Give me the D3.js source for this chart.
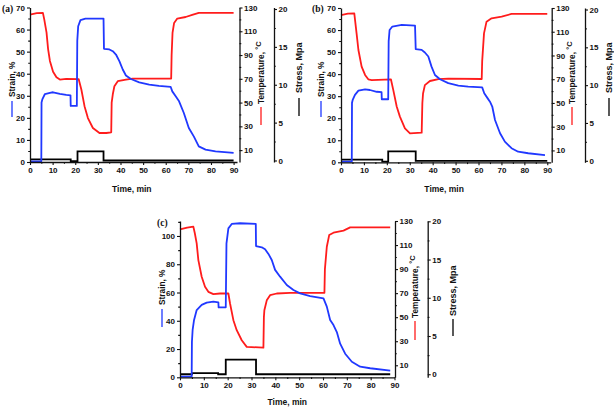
<!DOCTYPE html>
<html><head><meta charset="utf-8">
<script src="https://cdn.jsdelivr.net/npm/d3@7"></script>
<style>
body{margin:0;background:#fff}
svg text{font-family:"Liberation Sans",Arial,sans-serif;font-weight:bold;fill:#111}
</style>
</head><body>
<svg id="chart" width="614" height="409"></svg>
<script>
// ---------- data ----------
const timeTicks = [0,10,20,30,40,50,60,70,80,90];
const tempTicks = [10,30,50,70,90,110,130];
const stressTicks = [0,5,10,15,20];
const strainTicksAB = [0,10,20,30,40,50,60,70];
const strainTicksC = [0,20,40,60,80,100];
const panelLabels = ["(a)","(b)","(c)"];
const titleTime = "Time, min";
const titleStrain = "Strain, %";
const titleTemp = "Temperature, ";
const titleTempUnit = "°C";
const titleStress = "Stress, Mpa";

const strainA = [[0,0.3],[5.0,0.3],[5.1,27],[5.5,28.5],[6.6,30.8],[8.8,31.3],[10.2,31.6],[13.2,30.9],[16,30.4],[17.9,30.2],[18,25.4],[20.7,25.4],[20.9,55],[21.3,61.5],[22.3,64.3],[24.5,65],[32.5,65],[32.7,51.3],[35.1,51],[36.6,50.2],[38,48.7],[39.5,45.7],[41,41.9],[42.4,39.2],[44.6,37.6],[48.3,36.1],[52.7,35.1],[57,34.5],[62.2,34],[62.9,32],[64.4,29.8],[65.9,27.5],[68,22.2],[70.2,15.4],[72.4,11.6],[74.6,7.1],[77.6,5.6],[82,4.8],[90,4.1]];
const tempA = [[0,124],[3,125.3],[5.7,125.5],[6.3,120],[7.3,109],[8,95],[8.8,85],[10.2,76],[11.7,71.3],[13.2,69.4],[16,70],[21.5,69.8],[22.7,61],[24.1,47],[25.6,37],[27.8,28.6],[30.7,24.4],[33.7,24.4],[35.9,25],[36.1,50],[36.6,57],[37.3,63.7],[38.8,68],[42.4,69.3],[45.4,70.2],[62.4,70.2],[62.6,90],[63,108.6],[63.7,117],[65.1,120.7],[68.8,122],[71.7,123.8],[74.6,125.5],[90,125.5]];
const stressA = [[0,0.15],[18,-0.1],[21,1.2],[32.5,0],[90,0]];

const strainB = [[0,0.3],[4.7,0.3],[4.8,27],[5.1,28.3],[6.1,30.6],[7.6,32.5],[10.5,33.1],[12.6,32.8],[15.6,32],[17.7,31.8],[17.8,28.6],[20.6,28.6],[20.8,55],[21.2,60],[22.4,61.6],[26.5,62.3],[32.3,62],[32.6,51.3],[35.2,51],[36.6,49.8],[38.1,48],[39.5,43.4],[41,39.6],[43.2,37.7],[46.8,35.9],[51.2,34.8],[55.5,34.3],[61.6,34],[62.5,31.3],[64,29],[65,27.5],[66,25.3],[67.2,19.2],[69.4,13.2],[71.5,9.4],[74.4,6.4],[77.3,4.8],[81.7,4.1],[89,3.3]];
const tempB = [[0,124],[3,125.3],[5.8,125.5],[6.8,108.6],[7.6,94.6],[9,80.6],[10.5,73.6],[11.9,69.9],[13.4,69.3],[21.8,69.8],[22.8,61],[24.3,47],[25.7,38.5],[27.9,28.6],[30.1,24.4],[35.2,25],[35.5,50],[35.8,58],[36.6,65],[38.8,68.5],[42.5,70],[46.8,70.5],[61.4,70.2],[61.6,85],[62.4,108.6],[63.5,118.5],[65.7,121.3],[70.1,122.7],[74.4,125],[90,125]];
const stressB = [[0,0.15],[18,-0.1],[20.6,1.25],[32.6,0],[90,0]];

const strainC = [[0,0.5],[4.9,0.5],[5.0,25],[5.3,33.5],[5.9,40.6],[7,47.6],[9.1,51.2],[11.2,52.8],[14,53.5],[16.1,53],[16.2,49.5],[19.2,49.5],[19.5,94.8],[20.3,105.4],[21.7,108.5],[25.2,109],[31.8,108.5],[31.9,92.9],[34.3,92],[35.7,90.6],[37.1,87.3],[38.5,83],[39.9,76],[42,71.2],[44.8,65.3],[47.6,61.8],[50.4,59.4],[54.6,57.5],[60.2,55.9],[61.6,50],[63,40.6],[64.4,37],[65.8,32],[67.2,23.8],[69.3,16.7],[72.1,11],[75.6,7.5],[79.8,6.4],[88.2,4.7]];
const tempC = [[0,123],[3,124.5],[5.6,125.3],[6.2,120],[7,111.4],[7.7,97.5],[9.1,83.6],[10.5,75.3],[11.9,71.1],[14,69.2],[16.8,69.7],[20.3,69.7],[21,61.4],[22.4,47.5],[23.8,39.2],[25.9,30.8],[28,25.3],[35,24.7],[35.2,50],[35.4,55.8],[36.4,64],[37.8,68.3],[40.6,69.7],[46.2,70.3],[60.6,70.3],[60.8,90],[61.6,108.6],[62.6,118.3],[64.4,120.3],[68.6,122],[71.4,124.7],[88.2,124.7]];
const stressC = [[0,0],[5,0.15],[16,0],[19.2,1.9],[31.9,0],[88.2,0]];

// ---------- layout ----------
const BLUE = "#2038ff", RED = "#ff1c1c", BLACK = "#000";
const panels = [
  {label:panelLabels[0], strain:strainA, temp:tempA, stress:stressA, sTicks:strainTicksAB, sMax:70, sMinor:5,
   x0:30, x1:237, xMax:91.5, yTop:7.5, yBot:162, tAx:239.5, sAx:274, stressDom:[-0.2,20.2],
   lblX:{x:12, y0:97, d0:101, d1:117}, tLbl:{x:261, y0:104, d0:107, d1:125}, stLbl:{x:299, y0:93, d0:98, d1:116},
   timeY:192, tagX:2, tagY:12},
  {label:panelLabels[1], strain:strainB, temp:tempB, stress:stressB, sTicks:strainTicksAB, sMax:70, sMinor:5,
   x0:341, x1:550.7, xMax:91.5, yTop:8, yBot:162.3, tAx:551.7, sAx:585, stressDom:[-0.2,20.2],
   lblX:{x:321, y0:97, d0:101, d1:117}, tLbl:{x:572, y0:104, d0:107, d1:125}, stLbl:{x:609, y0:93, d0:98, d1:116},
   timeY:192, tagX:312, tagY:12},
  {label:panelLabels[2], strain:strainC, temp:tempC, stress:stressC, sTicks:strainTicksC, sMax:110.6, sMinor:10,
   x0:180, x1:394.5, xMax:90, yTop:221, yBot:377.3, tAx:395, sAx:427.7, stressDom:[-0.4,20.04],
   lblX:{x:162, y0:305, d0:309, d1:327}, tLbl:{x:415, y0:318, d0:321, d1:340}, stLbl:{x:453, y0:316, d0:319, d1:336},
   timeY:405, tagX:157, tagY:226}
];

const svg = d3.select("#chart");

function minorVals(lo, hi, step){
  const out=[]; for(let v=lo; v<=hi+1e-9; v+=step){ out.push(+v.toFixed(4)); } return out;
}
function styleAxis(g){
  g.selectAll("path.domain").attr("stroke","#111").attr("stroke-width",1.3);
  g.selectAll(".tick line").attr("stroke","#111").attr("stroke-width",1.1);
  g.selectAll(".tick text").style("font-size","8px").attr("fill","#111");
}

panels.forEach(p=>{
  const x = d3.scaleLinear().domain([0,p.xMax]).range([p.x0,p.x1]);
  const yS = d3.scaleLinear().domain([0,p.sMax]).range([p.yBot,p.yTop]);
  const yT = d3.scaleLinear().domain([0,130]).range([p.yBot,p.yTop]);
  const yP = d3.scaleLinear().domain(p.stressDom).range([p.yBot,p.yTop]);
  const g = svg.append("g");

  const lineS = d3.line().x(d=>x(d[0])).y(d=>yS(d[1]));
  const lineT = d3.line().x(d=>x(d[0])).y(d=>yT(d[1]));
  const lineP = d3.line().x(d=>x(d[0])).y(d=>yP(d[1])).curve(d3.curveStepAfter);
  g.append("path").datum(p.stress).attr("d",lineP).attr("fill","none").attr("stroke",BLACK).attr("stroke-width",1.8);
  g.append("path").datum(p.temp).attr("d",lineT).attr("fill","none").attr("stroke",RED).attr("stroke-width",1.8).attr("stroke-linejoin","round");
  g.append("path").datum(p.strain).attr("d",lineS).attr("fill","none").attr("stroke",BLUE).attr("stroke-width",1.8).attr("stroke-linejoin","round");

  const gx = g.append("g").attr("transform",`translate(0,${p.yBot})`);
  gx.call(d3.axisBottom(x).tickValues(timeTicks).tickSize(3).tickSizeOuter(0).tickPadding(2));
  gx.append("g").call(d3.axisBottom(x).tickValues(minorVals(5,85,10)).tickSize(1.8).tickFormat("")).select(".domain").remove();
  styleAxis(gx);

  const gy = g.append("g").attr("transform",`translate(${p.x0},0)`);
  gy.call(d3.axisLeft(yS).tickValues(p.sTicks).tickSize(3).tickSizeOuter(0).tickPadding(2));
  gy.append("g").call(d3.axisLeft(yS).tickValues(minorVals(p.sMinor,p.sMax,p.sMinor*2)).tickSize(1.8).tickFormat("")).select(".domain").remove();
  styleAxis(gy);

  const gt = g.append("g").attr("transform",`translate(${p.tAx},0)`);
  gt.call(d3.axisRight(yT).tickValues(tempTicks).tickSize(3).tickSizeOuter(0).tickPadding(1.5));
  gt.append("g").call(d3.axisRight(yT).tickValues(minorVals(20,120,20)).tickSize(1.8).tickFormat("")).select(".domain").remove();
  styleAxis(gt);

  const gp = g.append("g").attr("transform",`translate(${p.sAx},0)`);
  gp.call(d3.axisRight(yP).tickValues(stressTicks).tickSize(3).tickSizeOuter(0).tickPadding(1.5));
  gp.append("g").call(d3.axisRight(yP).tickValues(minorVals(2.5,17.5,5)).tickSize(1.8).tickFormat("")).select(".domain").remove();
  styleAxis(gp);

  g.append("text").attr("x",(x(0)+x(90))/2).attr("y",p.timeY).attr("text-anchor","middle").style("font-size","8.5px").text(titleTime);

  function vTitle(cfg, color, parts, size){
    g.append("line").attr("x1",cfg.x).attr("x2",cfg.x).attr("y1",cfg.d0).attr("y2",cfg.d1).attr("stroke",color).attr("stroke-width",1.3);
    const t = g.append("text").attr("transform",`translate(${cfg.x+3},${cfg.y0}) rotate(-90)`).style("font-size",size+"px");
    parts(t);
  }
  vTitle(p.lblX, BLUE, t=>t.text(titleStrain), 8.3);
  vTitle(p.tLbl, RED, t=>{ t.append("tspan").text(titleTemp); t.append("tspan").attr("dy",-3).style("font-size","7.5px").text(titleTempUnit); }, 8.3);
  vTitle(p.stLbl, BLACK, t=>t.text(titleStress), 9);

  g.append("text").attr("x",p.tagX).attr("y",p.tagY).style("font-family","'Liberation Serif',serif").style("font-size","9.5px").text(p.label);
});
</script>
</body></html>
